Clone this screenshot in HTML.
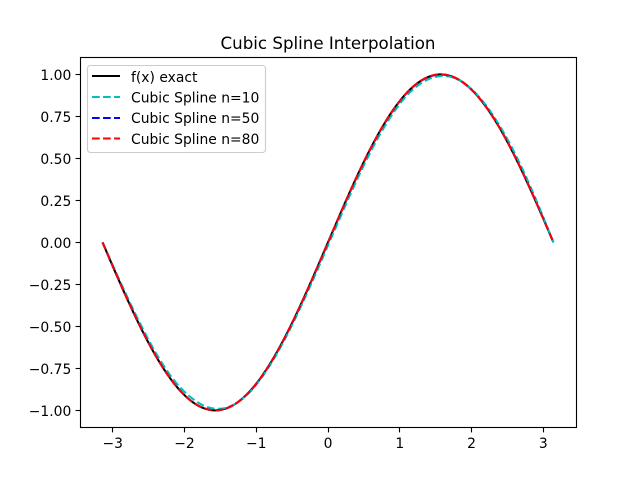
<!DOCTYPE html>
<html>
<head>
<meta charset="utf-8">
<title>Cubic Spline Interpolation</title>
<style>
html,body{margin:0;padding:0;background:#fff;}
svg{display:block;}
text{font-family:"DejaVu Sans","Liberation Sans",sans-serif;fill:#000;}
</style>
</head>
<body>
<svg id="chart" xmlns="http://www.w3.org/2000/svg" width="640" height="480" viewBox="0 0 640 480">
  <rect x="0" y="0" width="640" height="480" fill="#fff"/>
  <text x="328" y="49" font-size="16.67" text-anchor="middle">Cubic Spline Interpolation</text>
  <rect x="80" y="57.6" width="496" height="369.6" fill="#fff"/>
  <g id="ticks"></g>
  <g id="series"></g>
  <rect x="80.5" y="57.5" width="496" height="370" fill="none" stroke="#000" stroke-width="1.11"/>
  <g>
    <rect x="87.5" y="65.5" width="178" height="87" rx="3" ry="3" fill="#fff" fill-opacity="0.8" stroke="#ccc" stroke-width="1.11"/>
    <g>
      <line x1="92" y1="76" x2="120" y2="76" stroke="#000" stroke-width="2.08"/>
      <text x="131" y="82" font-size="13.89">f(x) exact</text>
    </g>
    <g>
      <line x1="92" y1="97" x2="120" y2="97" stroke="#00bfbf" stroke-width="2.08" stroke-dasharray="7.7 3.33"/>
      <text x="131" y="102.5" font-size="13.89">Cubic Spline n=10</text>
    </g>
    <g>
      <line x1="92" y1="118" x2="120" y2="118" stroke="#0000ff" stroke-width="2.08" stroke-dasharray="7.7 3.33"/>
      <text x="131" y="123" font-size="13.89">Cubic Spline n=50</text>
    </g>
    <g>
      <line x1="92" y1="138.5" x2="120" y2="138.5" stroke="#ff0000" stroke-width="2.08" stroke-dasharray="7.7 3.33"/>
      <text x="131" y="144" font-size="13.89">Cubic Spline n=80</text>
    </g>
  </g>
</svg>
<script>
var xTickValues = [-3, -2, -1, 0, 1, 2, 3];
var xTickLabels = ["\u22123", "\u22122", "\u22121", "0", "1", "2", "3"];
var yTickValues = [-1, -0.75, -0.5, -0.25, 0, 0.25, 0.5, 0.75, 1];
var yTickLabels = ["\u22121.00", "\u22120.75", "\u22120.50", "\u22120.25", "0.00", "0.25", "0.50", "0.75", "1.00"];

var xSamples = [-3.1416, -2.9845, -2.8274, -2.6704, -2.5133, -2.3562, -2.1991, -2.0420, -1.8850, -1.7279, -1.5708,
  -1.4137, -1.2566, -1.0996, -0.9425, -0.7854, -0.6283, -0.4712, -0.3142, -0.1571, 0,
  0.1571, 0.3142, 0.4712, 0.6283, 0.7854, 0.9425, 1.0996, 1.2566, 1.4137, 1.5708,
  1.7279, 1.8850, 2.0420, 2.1991, 2.3562, 2.5133, 2.6704, 2.8274, 2.9845, 3.1416];
var exactValues = [0, -0.1564, -0.3090, -0.4540, -0.5878, -0.7071, -0.8090, -0.8910, -0.9511, -0.9877, -1,
  -0.9877, -0.9511, -0.8910, -0.8090, -0.7071, -0.5878, -0.4540, -0.3090, -0.1564, 0,
  0.1564, 0.3090, 0.4540, 0.5878, 0.7071, 0.8090, 0.8910, 0.9511, 0.9877, 1,
  0.9877, 0.9511, 0.8910, 0.8090, 0.7071, 0.5878, 0.4540, 0.3090, 0.1564, 0];
var splineN10Values = [0, -0.150, -0.297, -0.438, -0.570, -0.689, -0.791, -0.871, -0.931, -0.973, -0.990,
  -0.984, -0.951, -0.895, -0.815, -0.715, -0.598, -0.466, -0.323, -0.173, -0.018,
  0.136, 0.289, 0.434, 0.568, 0.687, 0.791, 0.875, 0.935, 0.974, 0.990,
  0.984, 0.951, 0.895, 0.817, 0.719, 0.604, 0.472, 0.325, 0.166, 0];
var splineN50Values = [0, -0.1564, -0.3090, -0.4540, -0.5878, -0.7071, -0.8090, -0.8910, -0.9511, -0.9877, -1,
  -0.9877, -0.9511, -0.8910, -0.8090, -0.7071, -0.5878, -0.4540, -0.3090, -0.1564, 0,
  0.1564, 0.3090, 0.4540, 0.5878, 0.7071, 0.8090, 0.8910, 0.9511, 0.9877, 1,
  0.9877, 0.9511, 0.8910, 0.8090, 0.7071, 0.5878, 0.4540, 0.3090, 0.1564, 0];
var splineN80Values = [0, -0.1564, -0.3090, -0.4540, -0.5878, -0.7071, -0.8090, -0.8910, -0.9511, -0.9877, -1,
  -0.9877, -0.9511, -0.8910, -0.8090, -0.7071, -0.5878, -0.4540, -0.3090, -0.1564, 0,
  0.1564, 0.3090, 0.4540, 0.5878, 0.7071, 0.8090, 0.8910, 0.9511, 0.9877, 1,
  0.9877, 0.9511, 0.8910, 0.8090, 0.7071, 0.5878, 0.4540, 0.3090, 0.1564, 0];

var NS = "http://www.w3.org/2000/svg";
var plotLeft = 80, plotRight = 576, plotTop = 57.6, plotBottom = 427.2;
var xMin = -3.4558, xMax = 3.4558, yMin = -1.1, yMax = 1.1;

function xScale(v) {
  return plotLeft + (v - xMin) / (xMax - xMin) * (plotRight - plotLeft);
}
function yScale(v) {
  return plotBottom - (v - yMin) / (yMax - yMin) * (plotBottom - plotTop);
}

var ticksGroup = document.getElementById("ticks");
var seriesGroup = document.getElementById("series");

xTickValues.forEach(function (v, i) {
  var raw = xScale(v);
  var px = Math.floor(raw) + 0.5;
  var tick = document.createElementNS(NS, "line");
  
  
  tick.setAttribute("x1", px);
  tick.setAttribute("x2", px);
  tick.setAttribute("y1", 427.5);
  tick.setAttribute("y2", 432.4);
  tick.setAttribute("stroke", "#000");
  tick.setAttribute("stroke-width", "1.11");
  ticksGroup.appendChild(tick);
  var label = document.createElementNS(NS, "text");
  
  
  label.setAttribute("x", raw);
  label.setAttribute("y", 448);
  label.setAttribute("font-size", "13.89");
  label.setAttribute("text-anchor", "middle");
  label.textContent = xTickLabels[i];
  ticksGroup.appendChild(label);
});

yTickValues.forEach(function (v, i) {
  var raw = yScale(v);
  var py = Math.floor(raw) + 0.5;
  var tick = document.createElementNS(NS, "line");
  
  
  tick.setAttribute("x1", 75.6);
  tick.setAttribute("x2", 80.5);
  tick.setAttribute("y1", py);
  tick.setAttribute("y2", py);
  tick.setAttribute("stroke", "#000");
  tick.setAttribute("stroke-width", "1.11");
  ticksGroup.appendChild(tick);
  var label = document.createElementNS(NS, "text");
  
  
  label.setAttribute("x", plotLeft - 8.7);
  label.setAttribute("y", Math.round(raw + 5.2));
  label.setAttribute("font-size", "13.89");
  label.setAttribute("text-anchor", "end");
  label.textContent = yTickLabels[i];
  ticksGroup.appendChild(label);
});

function smoothPath(values) {
  var pts = values.map(function (v, i) {
    return [xScale(xSamples[i]), yScale(v)];
  });
  var d = "M" + pts[0][0].toFixed(2) + " " + pts[0][1].toFixed(2);
  for (var i = 0; i < pts.length - 1; i++) {
    var p0 = pts[Math.max(i - 1, 0)];
    var p1 = pts[i];
    var p2 = pts[i + 1];
    var p3 = pts[Math.min(i + 2, pts.length - 1)];
    d += " C" + (p1[0] + (p2[0] - p0[0]) / 6).toFixed(2) + " " + (p1[1] + (p2[1] - p0[1]) / 6).toFixed(2) +
      " " + (p2[0] - (p3[0] - p1[0]) / 6).toFixed(2) + " " + (p2[1] - (p3[1] - p1[1]) / 6).toFixed(2) +
      " " + p2[0].toFixed(2) + " " + p2[1].toFixed(2);
  }
  return d;
}

var exactLine = document.createElementNS(NS, "path");


exactLine.setAttribute("d", smoothPath(exactValues));
exactLine.setAttribute("fill", "none");
exactLine.setAttribute("stroke", "#000000");
exactLine.setAttribute("stroke-width", "2.08");
seriesGroup.appendChild(exactLine);

var n10Line = document.createElementNS(NS, "path");


n10Line.setAttribute("d", smoothPath(splineN10Values));
n10Line.setAttribute("fill", "none");
n10Line.setAttribute("stroke", "#00bfbf");
n10Line.setAttribute("stroke-width", "2.08");
n10Line.setAttribute("stroke-dasharray", "7.7 3.33");
seriesGroup.appendChild(n10Line);

var n50Line = document.createElementNS(NS, "path");


n50Line.setAttribute("d", smoothPath(splineN50Values));
n50Line.setAttribute("fill", "none");
n50Line.setAttribute("stroke", "#0000ff");
n50Line.setAttribute("stroke-width", "2.08");
n50Line.setAttribute("stroke-dasharray", "7.7 3.33");
seriesGroup.appendChild(n50Line);

var n80Line = document.createElementNS(NS, "path");


n80Line.setAttribute("d", smoothPath(splineN80Values));
n80Line.setAttribute("fill", "none");
n80Line.setAttribute("stroke", "#ff0000");
n80Line.setAttribute("stroke-width", "2.08");
n80Line.setAttribute("stroke-dasharray", "7.7 3.33");
seriesGroup.appendChild(n80Line);
</script>
</body>
</html>
